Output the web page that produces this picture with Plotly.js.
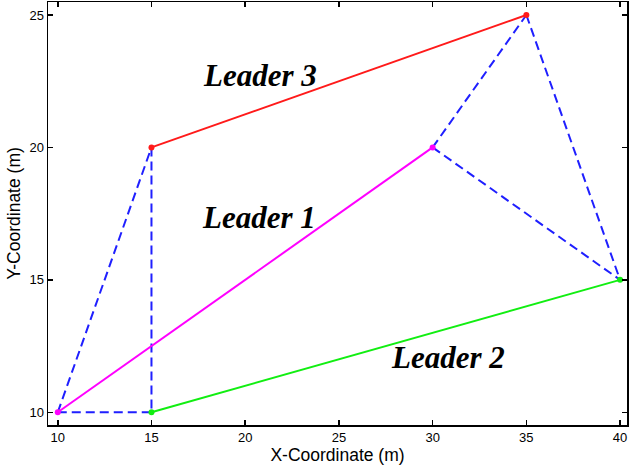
<!DOCTYPE html>
<html>
<head>
<meta charset="utf-8">
<script src="https://cdn.plot.ly/plotly-3.0.1.min.js"></script>
<style>
  html, body { margin: 0; padding: 0; background: #fff; }
  #chart { width: 629px; height: 467px; }
</style>
</head>
<body>
<div id="chart"></div>
<script>
// Leader paths (solid) between agent positions
const leader3X = [15, 35];
const leader3Y = [20, 25];
const leader1X = [10, 30];
const leader1Y = [10, 20];
const leader2X = [15, 40];
const leader2Y = [10, 15];

// Follower links (dashed), each a pair of endpoints
const linkX = [[10, 15], [15, 15], [10, 15], [30, 35], [35, 40], [30, 40]];
const linkY = [[10, 20], [20, 10], [10, 10], [20, 25], [25, 15], [20, 15]];

// Text labels and their positions in data units
const labelText = ['Leader 3', 'Leader 1', 'Leader 2'];
const labelX = [20.8, 20.75, 30.8];
const labelY = [22.71, 17.34, 12.07];

const xTicks = [10, 15, 20, 25, 30, 35, 40];
const yTicks = [10, 15, 20, 25];

const traces = [];

linkX.forEach((xs, i) => {
  traces.push({
    x: xs, y: linkY[i], mode: 'lines', type: 'scatter',
    line: { color: '#1f1fff', width: 2, dash: '9px,5px' },
    hoverinfo: 'skip', showlegend: false
  });
});

function leader(xs, ys, color) {
  return {
    x: xs, y: ys, mode: 'lines+markers', type: 'scatter',
    line: { color: color, width: 2 },
    marker: { color: color, size: 6 },
    showlegend: false
  };
}
traces.push(leader(leader3X, leader3Y, '#ff1a1a'));
traces.push(leader(leader1X, leader1Y, '#ff00ff'));
traces.push(leader(leader2X, leader2Y, '#11ee11'));

const annotations = labelText.map((t, i) => ({
  x: labelX[i], y: labelY[i], xref: 'x', yref: 'y',
  text: '<b><i>' + t + '</i></b>', showarrow: false,
  font: { family: 'Liberation Serif, Times New Roman, serif', size: 31, color: '#000' }
}));

const axisCommon = {
  showgrid: false, zeroline: false,
  showline: true, linecolor: '#000', linewidth: 1.5, mirror: 'ticks',
  ticks: 'inside', ticklen: 5, tickwidth: 1.5, tickcolor: '#000',
  tickfont: { family: 'Liberation Sans, Arial, sans-serif', size: 13, color: '#000' }
};

const titleFont = { family: 'Liberation Sans, Arial, sans-serif', size: 17.5, color: '#000' };

const layout = {
  width: 629, height: 467,
  margin: { l: 48, r: 2, t: 2, b: 42 },
  paper_bgcolor: '#fff', plot_bgcolor: '#fff',
  xaxis: Object.assign({}, axisCommon, {
    range: [9.48, 40.37], tickvals: xTicks,
    title: { text: 'X-Coordinate (m)', standoff: 1, font: titleFont }
  }),
  yaxis: Object.assign({}, axisCommon, {
    range: [9.52, 25.49], tickvals: yTicks,
    title: { text: 'Y-Coordinate (m)', standoff: 4, font: titleFont }
  }),
  annotations: annotations
};

Plotly.newPlot('chart', traces, layout, { staticPlot: true });
</script>
</body>
</html>
